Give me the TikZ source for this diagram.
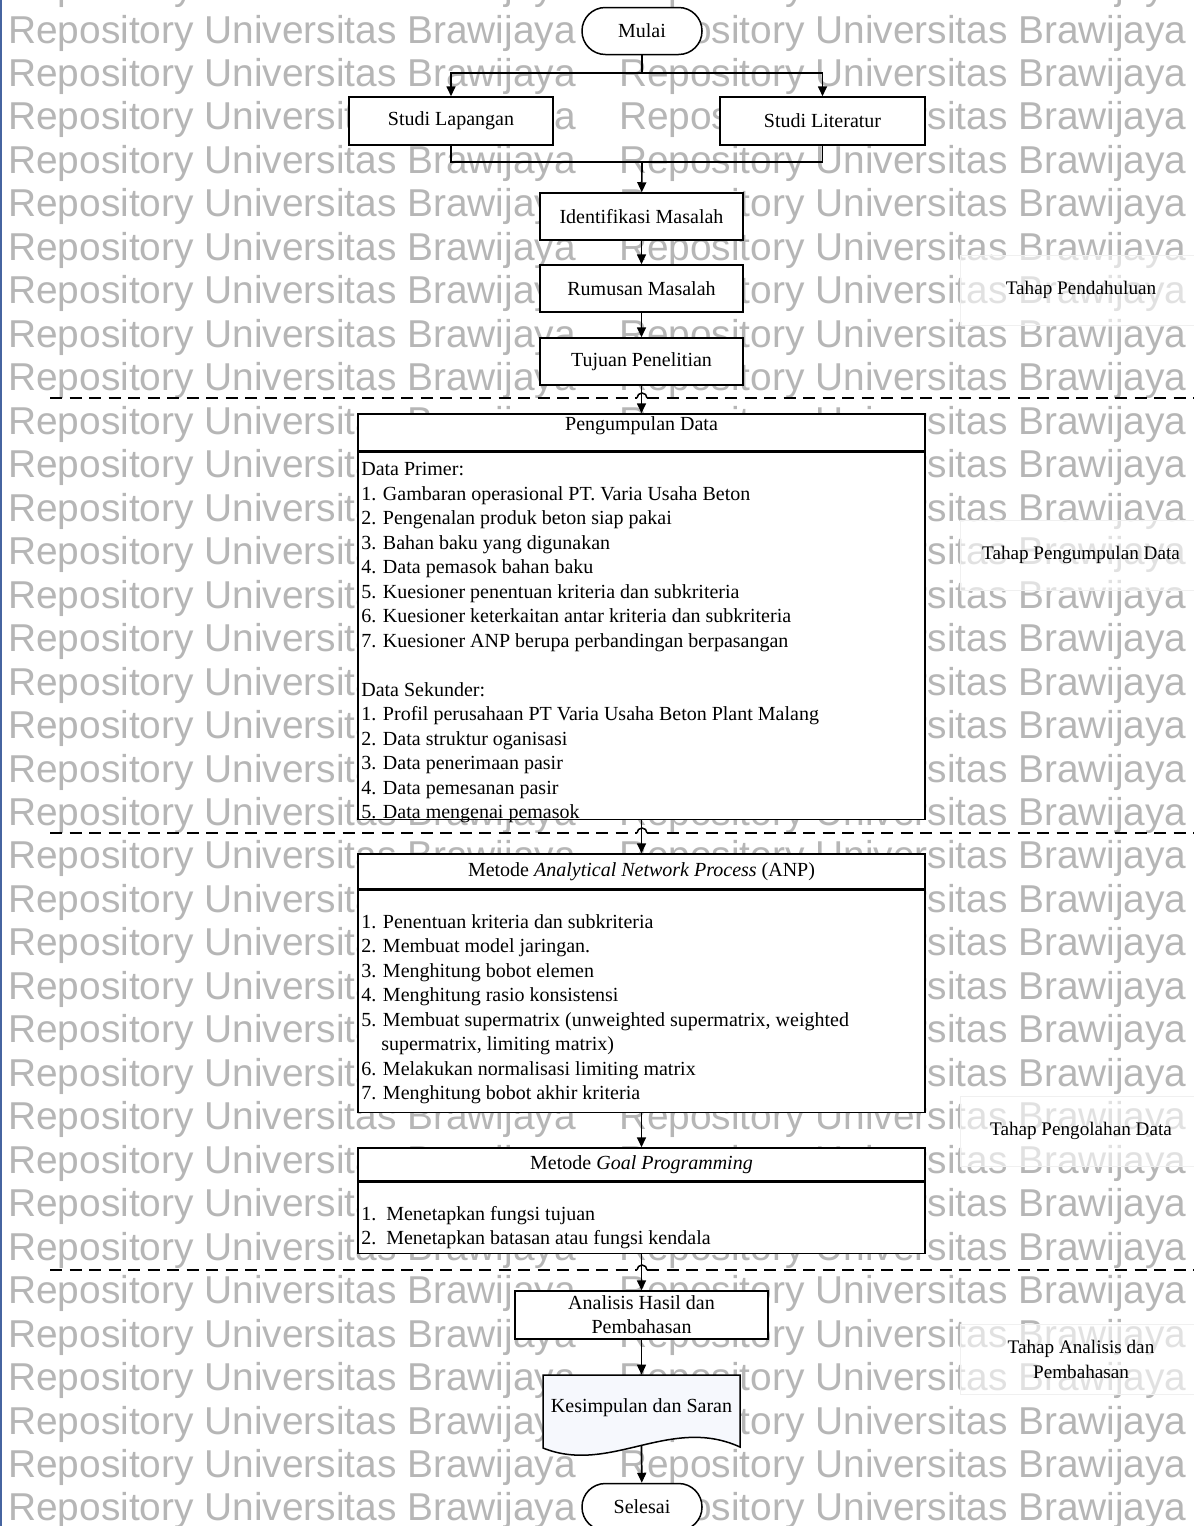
\documentclass[tikz,border=0pt]{standalone}
\usepackage{fontspec}
\setmainfont{Liberation Serif}
\newfontfamily\wmfont{Liberation Sans}
\usetikzlibrary{arrows.meta,positioning}
\definecolor{wmgray}{RGB}{182,182,182}
\definecolor{tepikiri}{RGB}{70,100,160}
\definecolor{dokfill}{RGB}{246,248,253}
\def\pxu{0.6pt}

\begin{document}
\begin{tikzpicture}
[x=0.6pt,y=-0.6pt,
  wm/.style={text=wmgray,inner sep=0pt,font=\wmfont\fontsize{23.3}{28}\selectfont},
  kotak/.style={shape=rectangle,draw,fill=white,line width=0.9pt,inner sep=2pt,
    align=center,font=\fontsize{12}{14.4}\selectfont},
  terminal/.style={kotak,rounded corners=14pt,minimum width=120*\pxu,minimum height=47*\pxu},
  proses/.style={kotak,minimum width=203*\pxu,minimum height=47*\pxu},
  judul/.style={kotak,minimum width=567*\pxu},
  isi/.style={kotak,minimum width=567*\pxu,anchor=north},
  teks/.style={align=left,inner sep=0pt,anchor=north west,
    font=\fontsize{12}{14.7}\selectfont},
  tahap/.style={shape=rectangle,draw=black!6,fill=white,fill opacity=0.6,text opacity=1,
    minimum width=242*\pxu,minimum height=70*\pxu,align=center,
    font=\fontsize{11.5}{15}\selectfont},
  garis/.style={line width=1pt},
  garisputus/.style={line width=0.9pt,dash pattern=on 7.2pt off 4.5pt},
  panah/.style={-{Triangle[length=6pt,width=5.4pt]},line width=1pt}]
\useasboundingbox (0,0) rectangle (1194,1526);
\fill[white] (0,0) rectangle (1194,1526);
%% watermark
\foreach \k in {-1,...,34} {
  \node[wm,anchor=base west] (wmkiri\k) at (8,43+43.47*\k) {Repository Universitas Brawijaya};
  \node[wm,anchor=base east] (wmkanan\k) at (1187,43+43.47*\k) {Repository Universitas Brawijaya};
}
\draw[line width=1pt,tepikiri] (0.8,0) -- (0.8,1526);
%% batas tahap
\foreach \y in {398,833,1270} {
  \draw[garisputus] (50,\y) -- (637,\y);
  \draw[line width=0.9pt] (637,\y) arc[start angle=180,end angle=360,radius=5];
  \draw[garisputus] (647,\y) -- (1194,\y);
}
%% tahap pendahuluan
\node[terminal] (mulai) at (642,31) {Mulai};
\node[kotak,minimum width=204*\pxu,minimum height=48*\pxu] (lapangan) at (451,121) {Studi Lapangan};
\node[kotak,minimum width=205*\pxu,minimum height=48*\pxu] (literatur) at (822.5,121) {Studi Literatur};
\foreach \nama/\y/\tulisan in {identifikasi/216.5/Identifikasi Masalah,
  rumusan/288.5/Rumusan Masalah, tujuan/361.5/Tujuan Penelitian} {
  \node[proses] (\nama) at (641.5,\y) {\tulisan};
}
\coordinate (cabang) at (642,73);
\coordinate (gabung) at (642,162);
%% tahap pengumpulan data
\node[judul,minimum height=37*\pxu,inner ysep=0pt,text depth=11pt] (pengumpulan) at (641.5,432.5) {Pengumpulan Data};
\node[isi,minimum height=367*\pxu] (dataisi) at (pengumpulan.south) {};
\node[teks] (datateks) at (361,462) {Data Primer:\\
  1. Gambaran operasional PT. Varia Usaha Beton\\
  2. Pengenalan produk beton siap pakai\\
  3. Bahan baku yang digunakan\\
  4. Data pemasok bahan baku\\
  5. Kuesioner penentuan kriteria dan subkriteria\\
  6. Kuesioner keterkaitan antar kriteria dan subkriteria\\
  7. Kuesioner ANP berupa perbandingan berpasangan\\[14.7pt]
  Data Sekunder:\\
  1. Profil perusahaan PT Varia Usaha Beton Plant Malang\\
  2. Data struktur oganisasi\\
  3. Data penerimaan pasir\\
  4. Data pemesanan pasir\\
  5. Data mengenai pemasok};
%% tahap pengolahan data
\node[judul,minimum height=35*\pxu] (anp) at (641.5,871.5) {Metode \textit{Analytical Network Process} (ANP)};
\node[isi,minimum height=222*\pxu] (anpisi) at (anp.south) {};
\node[teks] (anpteks) at (361,914) {1. Penentuan kriteria dan subkriteria\\
  2. Membuat model jaringan.\\
  3. Menghitung bobot elemen\\
  4. Menghitung rasio konsistensi\\
  5. Membuat supermatrix (unweighted supermatrix, weighted\\
  \hspace*{12pt}supermatrix, limiting matrix)\\
  6. Melakukan normalisasi limiting matrix\\
  7. Menghitung bobot akhir kriteria};
\node[judul,minimum height=33*\pxu] (gp) at (641.5,1164.5) {Metode \textit{Goal Programming}};
\node[isi,minimum height=71*\pxu] (gpisi) at (gp.south) {};
\node[teks] (gpteks) at (361,1206) {1.\hspace{6pt}Menetapkan fungsi tujuan\\
  2.\hspace{6pt}Menetapkan batasan atau fungsi kendala};
%% tahap analisis dan pembahasan
\node[kotak,inner ysep=1pt,minimum width=253*\pxu,minimum height=48*\pxu] (analisis) at (641.5,1315) {Analisis Hasil dan\\Pembahasan};
\draw[line width=0.9pt,fill=dokfill] (543,1375) -- (740,1375) -- (740,1447)
  .. controls (670,1415) and (610,1475) .. (543,1448) -- cycle;
\node[minimum width=197*\pxu,minimum height=66*\pxu,font=\fontsize{12}{14.4}\selectfont] (kesimpulan) at (641.5,1408) {Kesimpulan dan Saran};
\coordinate (kesbawah) at (641.5,1446);
\node[terminal] (selesai) at (642,1507) {Selesai};
%% panah
\draw[garis] (mulai) -- (cabang);
\draw[panah] (cabang) -| (lapangan);
\draw[panah] (cabang) -| (literatur);
\draw[garis] (lapangan) |- (gabung);
\draw[garis] (literatur) |- (gabung);
\draw[panah] (gabung) -- (identifikasi);
\foreach \dari/\ke in {identifikasi/rumusan, rumusan/tujuan, tujuan/pengumpulan,
  dataisi/anp, anpisi/gp, gpisi/analisis, analisis/kesimpulan, kesbawah/selesai} {
  \draw[panah] (\dari) -- (\ke);
}
%% label tahap
\node[tahap] (tahap1) at (1081,290) {Tahap Pendahuluan};
\node[tahap] (tahap2) at (1081,555) {Tahap Pengumpulan Data};
\node[tahap] (tahap3) at (1081,1131) {Tahap Pengolahan Data};
\node[tahap] (tahap4) at (1081,1359) {Tahap Analisis dan\\Pembahasan};
\end{tikzpicture}
\end{document}
